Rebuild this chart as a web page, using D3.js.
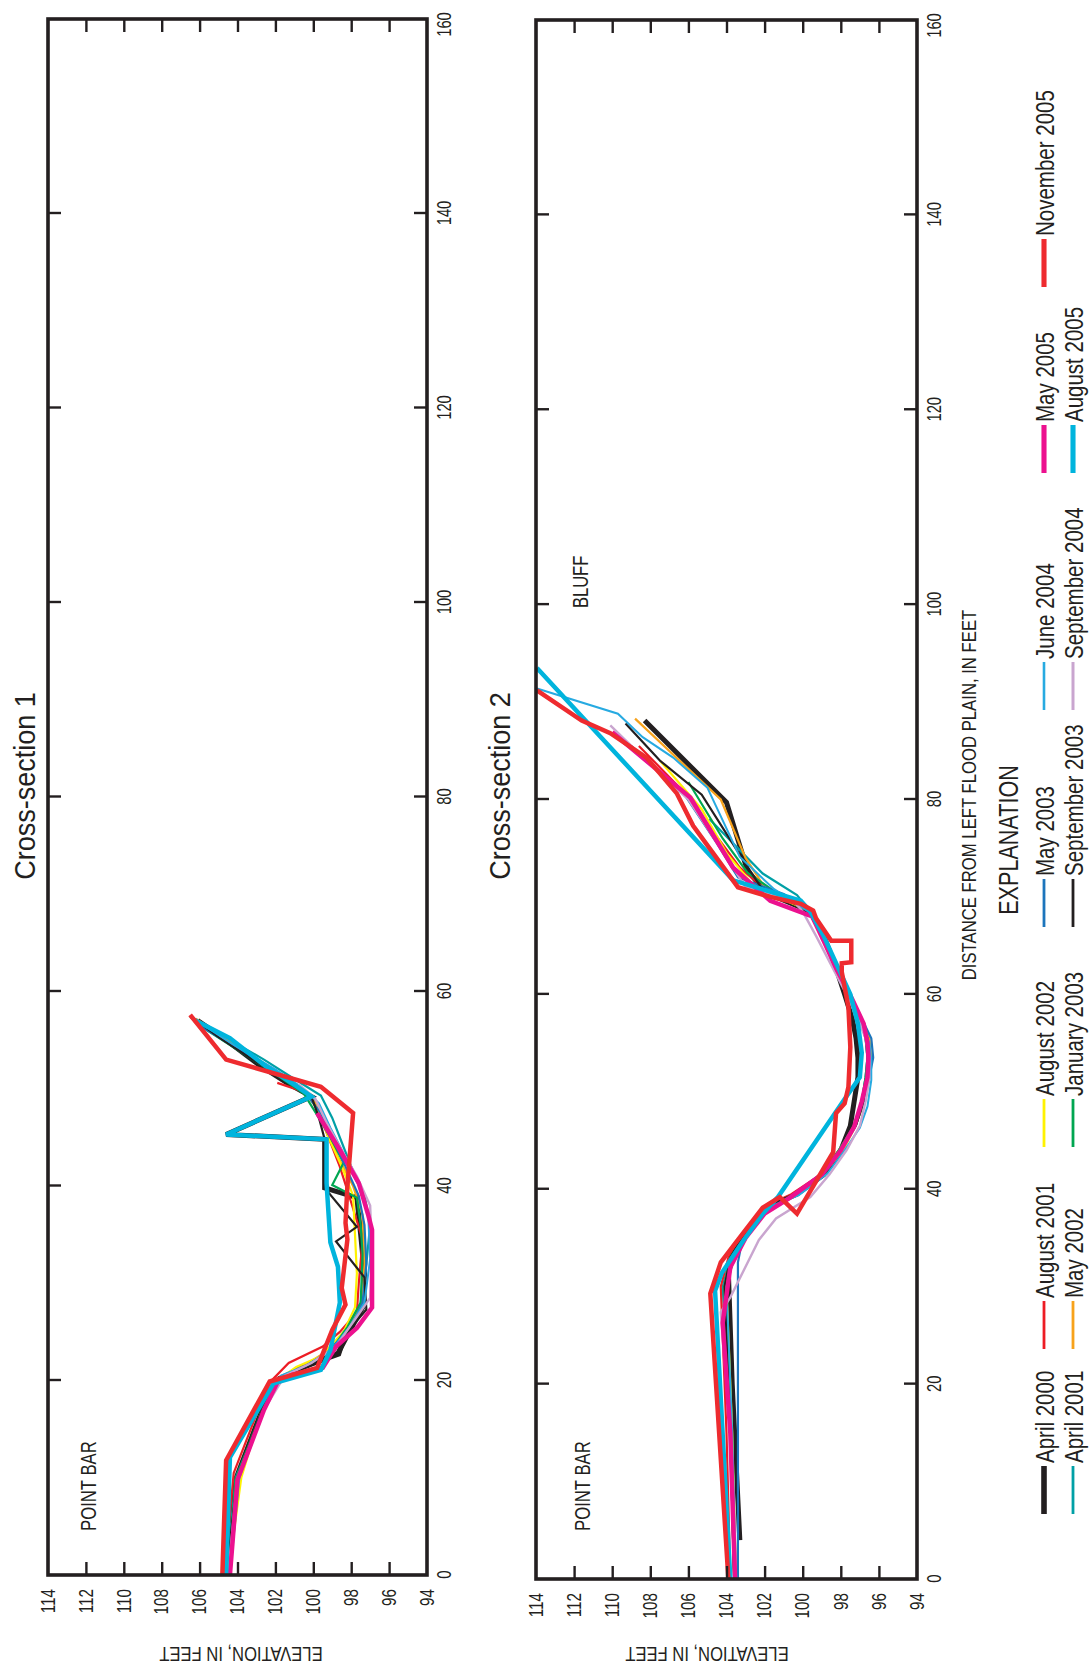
<!DOCTYPE html>
<html>
<head>
<meta charset="utf-8">
<script src="https://cdn.jsdelivr.net/npm/d3@7"></script>
<style>
  body { margin: 0; background: #ffffff; }
  svg { display: block; }
</style>
</head>
<body>
<svg id="fig" width="1091" height="1666"></svg>
<script>
// ---------------------------------------------------------------
// Survey dates, in legend order
const surveyDates = [
  "April 2000", "April 2001", "August 2001", "May 2002", "August 2002",
  "January 2003", "May 2003", "September 2003", "June 2004",
  "September 2004", "May 2005", "August 2005", "November 2005"
];

// Axis ticks
const distanceTicks = [0, 20, 40, 60, 80, 100, 120, 140, 160];
const elevationTicks = [94, 96, 98, 100, 102, 104, 106, 108, 110, 112, 114];

// Cross-section 1 profiles: [distance from left flood plain (ft), elevation (ft)]
const s1_apr2000 = [[0,104.6],[9.8,104.1],[17,102.7],[20.2,101.8],[21.3,100.6],[22.8,98.7],[25,98.1],[27.5,97.4],[31,97.3],[35,97.5],[38.8,97.7],[39.8,99.4],[44.8,99.4],[45.3,104.6],[49.2,100.1],[50.5,101.3],[52.5,102.9],[55,104.6],[57,106.1]];
const s1_apr2001 = [[0,104.6],[10,104.1],[17.5,102.5],[20.5,101.6],[21.6,100.3],[23,99.2],[25.5,98.2],[28,97.5],[32,97.2],[36,97.0],[39,97.3],[42,98.0],[44.5,98.5],[47,99.0],[49.3,99.6],[51,101.0],[53,102.6],[55,104.4],[56.8,105.9]];
const s1_aug2001 = [[0,104.7],[10.5,104.2],[17.5,102.8],[19.8,102.3],[21.8,101.3],[23.5,99.5],[25,98.6],[27,97.7],[30,97.6],[34.5,97.4],[38.3,98.0],[42,98.6],[45,99.2],[47.5,99.7],[49.5,100.2],[50.6,101.9]];
const s1_may2002 = [[0,104.5],[10,104.0],[17,102.6],[20.5,101.6],[21.5,100.5],[23,99.3],[25.5,98.1],[28,97.4],[32,97.3],[37,97.4],[40,97.9],[43,98.7],[46,99.3],[49,100.0],[51,101.5],[53.5,103.4],[56,105.3],[57.2,106.2]];
const s1_aug2002 = [[0,104.5],[10,103.8],[16.5,102.8],[20,101.9],[21.4,100.9],[22.5,99.6],[25,98.4],[27.5,97.8],[31,97.7],[35,97.8],[39,97.9],[42,98.5],[45,99.2],[48,99.8],[50,100.6],[52,102.1],[54.5,104.3],[57,106.2]];
const s1_jan2003 = [[0,104.5],[9.8,104.1],[17,102.7],[20.3,101.8],[21.5,100.4],[23,99.1],[25.5,98.2],[28,97.5],[33,97.4],[36,97.5],[38.8,97.7],[40.1,99.0],[42.4,98.4],[45,99.1],[47.3,99.8],[49.5,100.5],[51.5,102.0],[54,104.0],[56,105.6],[57.4,106.5]];
const s1_may2003 = [[0,104.5],[10,104.0],[17,102.6],[20.5,101.6],[21.6,100.3],[23,99.2],[25.5,98.0],[28,97.4],[32,97.2],[36,97.3],[39,97.6],[42,98.3],[45,99.0],[47.5,99.6],[49.5,100.4],[51.5,101.9],[54,103.9],[56.5,106.0]];
const s1_sep2003 = [[0,104.6],[10,104.0],[17,102.7],[20.3,101.8],[21.3,100.5],[22.6,98.6],[25,98.2],[27.3,97.2],[30.6,97.3],[34.3,98.8],[35.8,97.7],[39.8,99.4],[44.8,99.4],[47,99.7],[49.2,100.1],[51,101.5],[53,103.2],[55.3,105.0],[57.2,106.3]];
const s1_jun2004 = [[0,104.4],[10,103.9],[17,102.6],[20.5,101.7],[21.5,100.4],[23,99.1],[25.5,98.1],[28,97.3],[32.5,97.0],[37,97.1],[40,97.6],[43,98.3],[46,99.1],[48.5,99.7],[50,100.5],[52,102.0],[54.5,104.2],[56.8,106.0]];
const s1_sep2004 = [[0,104.5],[10,104.0],[17,102.6],[20.5,101.5],[21.8,100.1],[23.5,98.8],[26,97.9],[28.5,97.0],[33,96.9],[38,97.0],[41,97.7],[44,98.6],[46.5,99.3],[49,99.9],[50.5,100.8]];
const s1_may2005 = [[0,104.4],[9.8,104.0],[17,102.6],[19.8,101.9],[20.6,101.1],[21.3,99.5],[23.5,98.8],[25.4,97.7],[27.5,96.9],[31,96.9],[35.5,96.9],[37,97.1],[40.3,97.6],[43.7,98.6],[47.5,99.8]];
const s1_aug2005 = [[0,104.6],[12.1,104.4],[19.7,102.1],[21.1,99.6],[23.1,99.1],[28,98.6],[31.7,98.7],[34.2,99.1],[40.3,99.3],[44.8,99.3],[45.3,104.6],[49.2,100.1],[50.3,100.9],[52.3,102.5],[55.2,104.4],[57.1,106.3]];
const s1_nov2005 = [[0,104.8],[11.8,104.6],[19.9,102.3],[21.3,99.8],[25.2,99.0],[27.8,98.3],[29.5,98.5],[34.5,98.2],[36.2,98.3],[40,98.2],[47.5,97.9],[50.2,99.6],[53.0,104.6],[57.6,106.5]];

// Cross-section 2 profiles
const s2_apr2000 = [[4,103.3],[20,103.7],[31.4,103.9],[33.5,103.6],[36,102.8],[38.2,101.8],[39.5,100.3],[41.5,98.9],[44,98.0],[46.5,97.5],[49,97.3],[51.5,97.1],[53.5,97.1],[55.5,97.2],[57.5,97.4],[60,97.8],[63,98.3],[66,98.9],[68.5,99.6],[70.4,101.9],[72.7,102.9],[79.7,104.0],[88.1,108.3]];
const s2_apr2001 = [[0,103.6],[15,103.8],[30,104.2],[33,103.8],[36,102.9],[38.3,101.9],[39.5,100.4],[41.8,98.8],[44.3,98.0],[46.5,97.3],[49,96.9],[51.5,96.7],[53.5,96.6],[55.5,96.7],[57.5,97.0],[60,97.6],[63,98.3],[66,98.9],[68.5,99.6],[70.2,100.3],[72.4,102.1],[78.0,104.9]];
const s2_aug2001 = [[0,103.8],[15,104.0],[30,104.3],[33,103.9],[36,102.9],[38.4,101.8],[39.5,100.6],[41.7,98.9],[44.2,98.0],[46.5,97.3],[49,96.9],[51.5,96.6],[53.5,96.5],[55.5,96.6],[57.5,97.0],[60,97.5],[63,98.3],[66.5,99.1],[68.8,99.8],[70.5,101.8],[73,103.3],[77.5,105.0],[81.5,106.6],[85.5,108.6]];
const s2_may2002 = [[0,103.6],[15,103.8],[30,104.1],[33,103.8],[36,102.9],[38.3,101.8],[39.6,100.3],[41.8,98.9],[44.3,98.0],[46.7,97.2],[49.2,96.7],[51.5,96.5],[53.5,96.4],[55.5,96.5],[57.5,96.9],[60,97.5],[63,98.2],[66,98.9],[68.6,99.6],[71.0,102.0],[74.0,103.0],[80.0,104.3],[88.3,108.8]];
const s2_aug2002 = [[0,103.5],[15,103.7],[30,104.0],[33,103.7],[36,102.8],[38.3,101.8],[39.6,100.2],[41.8,98.8],[44.3,97.8],[46.6,97.2],[49,96.8],[51.5,96.6],[53.5,96.5],[55.5,96.6],[57.5,97.0],[60,97.6],[63,98.3],[66,99.0],[68.6,99.7],[71,102.5],[74.5,104.0],[79,105.3],[84.0,107.5]];
const s2_jan2003 = [[0,103.6],[15,103.8],[30,104.1],[33,103.8],[36,102.8],[38.2,101.9],[39.5,100.4],[41.8,98.9],[44.3,98.0],[46.5,97.3],[49,96.9],[51.5,96.7],[53.5,96.6],[55.5,96.7],[57.5,97.0],[60,97.6],[63,98.3],[66,99.0],[68.5,99.6],[70.6,101.5],[72.5,102.9],[76,104.2],[81.8,106.0]];
const s2_may2003 = [[0,103.4],[32.5,103.4],[34.5,103.2],[36.5,102.5],[38.5,101.6],[39.6,100.2],[41.8,98.8],[44.3,97.9],[46.6,97.2],[49,96.8],[51.5,96.5],[53.5,96.3],[55.5,96.4],[57.5,96.9],[60,97.5],[63,98.2],[66,98.9],[68.5,99.6],[70.3,101.0],[72,103.4],[75.5,104.5],[80.5,106.2],[85.5,109.0]];
const s2_sep2003 = [[0,103.6],[15,103.8],[30,104.1],[33,103.8],[36,102.9],[38.3,101.9],[39.6,100.3],[41.8,98.8],[44.3,97.9],[46.6,97.2],[49,96.8],[51.5,96.6],[53.5,96.5],[55.5,96.6],[57.5,97.0],[60,97.6],[63,98.3],[66,99.0],[68.6,99.7],[71,102.2],[74,103.2],[80.5,105.3],[84,107.5],[87.8,109.3]];
const s2_jun2004 = [[0,103.5],[15,103.7],[30,104.0],[33,103.7],[36,102.7],[38.2,101.7],[39.4,100.2],[41.6,98.7],[44,97.8],[46.3,97.0],[48.5,96.6],[51.2,96.4],[53.2,96.4],[55,96.5],[57,96.9],[59.5,97.5],[63,98.3],[66,99.0],[68.5,99.7],[70.8,101.5],[74.1,103.3],[81.2,105.0],[84.3,106.8],[86.4,108.4],[88.8,109.7],[91.4,113.95]];
const s2_sep2004 = [[0,103.5],[15,103.8],[27.4,104.3],[28.9,103.8],[34.8,102.3],[37,101.4],[39.2,99.6],[41.5,98.6],[44,97.7],[46.5,97.0],[49,96.7],[51.5,96.5],[53.5,96.5],[55.5,96.7],[57.5,97.1],[60,97.7],[63,98.5],[66,99.3],[68.5,100.0],[69.8,100.6],[71,103.0],[75,104.3],[80,106.0],[84,108.2],[87.6,110.1]];
const s2_may2005 = [[0,103.55],[15,103.8],[26.3,104.2],[32,103.8],[35,103.0],[37.5,102.0],[39.1,100.7],[41.5,99.0],[44,98.0],[46.4,97.3],[49,96.9],[51.5,96.6],[53.5,96.55],[55,96.6],[57,96.8],[59.5,97.4],[62.5,98.2],[65.5,98.9],[68,99.5],[69.6,101.7],[73.0,103.65],[80.2,105.9],[86.9,110.0]];
const s2_aug2005 = [[0,103.8],[29.6,104.6],[31.4,104.25],[34.8,103.1],[37.5,102.1],[39.2,101.3],[49.4,97.75],[51.5,97.0],[54,96.9],[57,97.1],[60,97.5],[63,98.2],[66,98.9],[68.5,99.6],[69.6,100.1],[71.7,103.65],[93.5,113.95]];
const s2_nov2005 = [[0,103.9],[29.3,104.85],[32.5,104.3],[34.8,103.4],[38.1,102.1],[39.2,101.2],[37.5,100.3],[43.8,98.4],[47.8,98.25],[48.8,97.8],[50.5,97.6],[54.6,97.5],[58.7,97.6],[62.3,97.95],[63.2,97.95],[63.3,97.45],[65.5,97.45],[65.5,98.5],[67.8,99.3],[68.6,99.45],[69.3,100.1],[70.0,101.7],[71.0,103.4],[77.3,105.75],[80.6,106.6],[84.3,108.2],[86.8,110.1],[88.1,111.6],[91.2,113.95]];

const section1 = [s1_apr2000, s1_apr2001, s1_aug2001, s1_may2002, s1_aug2002, s1_jan2003, s1_may2003, s1_sep2003, s1_jun2004, s1_sep2004, s1_may2005, s1_aug2005, s1_nov2005];
const section2 = [s2_apr2000, s2_apr2001, s2_aug2001, s2_may2002, s2_aug2002, s2_jan2003, s2_may2003, s2_sep2003, s2_jun2004, s2_sep2004, s2_may2005, s2_aug2005, s2_nov2005];

// ---------------------------------------------------------------
// Line styling per survey
const lineColors = ["#231f20", "#00a0a6", "#ed1c24", "#f7a21b", "#fff200", "#00a651", "#1c75bc", "#231f20", "#27aae1", "#c9a5cf", "#ec118f", "#00b4dd", "#ee2b2f"];
const lineWidths = [5, 2.2, 2.2, 2.2, 2.2, 2.2, 2.2, 2.2, 2, 2.4, 4.5, 4.5, 4.5];

const INK = "#231f20";
const FONT = "'Liberation Sans', Arial, Helvetica, sans-serif";

// Squeeze text horizontally to get a condensed face from a regular one
function condense(sel, k) {
  sel.each(function () {
    const L = this.getComputedTextLength();
    if (L > 0) {
      this.setAttribute("textLength", (L * k).toFixed(1));
      this.setAttribute("lengthAdjust", "spacingAndGlyphs");
    }
  });
}

const svg = d3.select("#fig");
// The figure is laid out landscape, then turned a quarter turn counter-clockwise onto the page.
const root = svg.append("g").attr("transform", "translate(0,1666) rotate(-90)");

const panels = [
  { title: "Cross-section 1", data: section1, u0: 91, u1: 1647, v0: 48, v1: 427, titleV: 35, noteV: 96, bluff: false, elevLabelV: 241 },
  { title: "Cross-section 2", data: section2, u0: 87, u1: 1646, v0: 536, v1: 917, titleV: 510, noteV: 590, bluff: true, elevLabelV: 707 }
];

panels.forEach(p => {
  const x = d3.scaleLinear().domain([0, 160]).range([p.u0, p.u1]);
  const y = d3.scaleLinear().domain([94, 114]).range([p.v1, p.v0]);
  const g = root.append("g");

  // profiles
  const line = d3.line().x(d => x(d[0])).y(d => y(d[1]));
  g.append("g").selectAll("path")
    .data(p.data)
    .join("path")
    .attr("d", line)
    .attr("fill", "none")
    .attr("stroke", (d, i) => lineColors[i])
    .attr("stroke-width", (d, i) => lineWidths[i])
    .attr("stroke-linejoin", "miter")
    .attr("stroke-miterlimit", 3);

  const innerDist = distanceTicks.slice(1, -1);
  const innerElev = elevationTicks.slice(1, -1);

  const styleAxis = sel => {
    sel.select(".domain").remove();
    sel.selectAll(".tick line").attr("stroke", INK).attr("stroke-width", 2.4);
    sel.selectAll(".tick text").attr("fill", INK).attr("font-family", FONT).attr("font-size", 19.5);
  };

  // distance axis, labelled below the box
  const axB = g.append("g").attr("transform", `translate(0,${p.v1})`)
    .call(d3.axisBottom(x).tickValues(distanceTicks).tickSize(-13).tickPadding(10));
  styleAxis(axB);
  axB.selectAll(".tick").filter(d => d === 0 || d === 160).select("line").remove();
  // keep the last label inside the page edge
  axB.selectAll(".tick").filter(d => d === 160).select("text").attr("dx", -6);
  condense(axB.selectAll(".tick text"), 0.76);

  const axT = g.append("g").attr("transform", `translate(0,${p.v0})`)
    .call(d3.axisTop(x).tickValues(innerDist).tickSize(-13).tickFormat(() => ""));
  styleAxis(axT);

  // elevation axis, labelled on the left
  const axL = g.append("g").attr("transform", `translate(${p.u0},0)`)
    .call(d3.axisLeft(y).tickValues(elevationTicks).tickSize(-13).tickPadding(14));
  styleAxis(axL);
  axL.selectAll(".tick").filter(d => d === 94 || d === 114).select("line").remove();
  condense(axL.selectAll(".tick text"), 0.78);

  const axR = g.append("g").attr("transform", `translate(${p.u1},0)`)
    .call(d3.axisRight(y).tickValues(innerElev).tickSize(-13).tickFormat(() => ""));
  styleAxis(axR);

  // box
  g.append("rect")
    .attr("x", p.u0).attr("y", p.v0)
    .attr("width", p.u1 - p.u0).attr("height", p.v1 - p.v0)
    .attr("fill", "none").attr("stroke", INK).attr("stroke-width", 3.6);

  // title
  const t = g.append("text")
    .attr("x", 880).attr("y", p.titleV)
    .attr("text-anchor", "middle")
    .attr("font-family", FONT).attr("font-size", 30).attr("fill", INK)
    .text(p.title);
  condense(t, 0.9);

  // bank annotations
  const pb = g.append("text")
    .attr("x", 135).attr("y", p.noteV)
    .attr("font-family", FONT).attr("font-size", 22).attr("fill", INK)
    .text("POINT BAR");
  condense(pb, 0.76);
  if (p.bluff) {
    const bl = g.append("text")
      .attr("x", 1058).attr("y", p.noteV - 2)
      .attr("font-family", FONT).attr("font-size", 22).attr("fill", INK)
      .text("BLUFF");
    condense(bl, 0.75);
  }

  // elevation axis title
  const et = g.append("text")
    .attr("transform", `translate(19,${p.elevLabelV}) rotate(-90)`)
    .attr("text-anchor", "middle")
    .attr("font-family", FONT).attr("font-size", 19.5).attr("fill", INK)
    .text("ELEVATION, IN FEET");
  condense(et, 0.85);
});

// distance axis title
const dt = root.append("text")
  .attr("x", 871).attr("y", 976)
  .attr("text-anchor", "middle")
  .attr("font-family", FONT).attr("font-size", 20).attr("fill", INK)
  .text("DISTANCE FROM LEFT FLOOD PLAIN, IN FEET");
condense(dt, 0.835);

// ---------------------------------------------------------------
// Legend
const ex = root.append("text")
  .attr("x", 826).attr("y", 1018)
  .attr("text-anchor", "middle")
  .attr("font-family", FONT).attr("font-size", 27).attr("fill", INK)
  .text("EXPLANATION");
condense(ex, 0.8);

const legendColStart = [152, 317, 519, 739, 956, 1193, 1379];
const legendRowMid = [1044, 1073];
const legendSwatch = 48;

const leg = root.append("g").selectAll("g")
  .data(surveyDates)
  .join("g")
  .attr("transform", (d, i) => `translate(${legendColStart[Math.floor(i / 2)]},${legendRowMid[i % 2]})`);

leg.append("line")
  .attr("x1", 0).attr("x2", legendSwatch)
  .attr("y1", 0).attr("y2", 0)
  .attr("stroke", (d, i) => lineColors[i])
  .attr("stroke-width", (d, i) => lineWidths[i] + 0.6);

const legText = leg.append("text")
  .attr("x", legendSwatch + 3).attr("y", 9.5)
  .attr("font-family", FONT).attr("font-size", 25).attr("fill", INK)
  .text(d => d);
condense(legText, 0.82);
</script>
</body>
</html>
